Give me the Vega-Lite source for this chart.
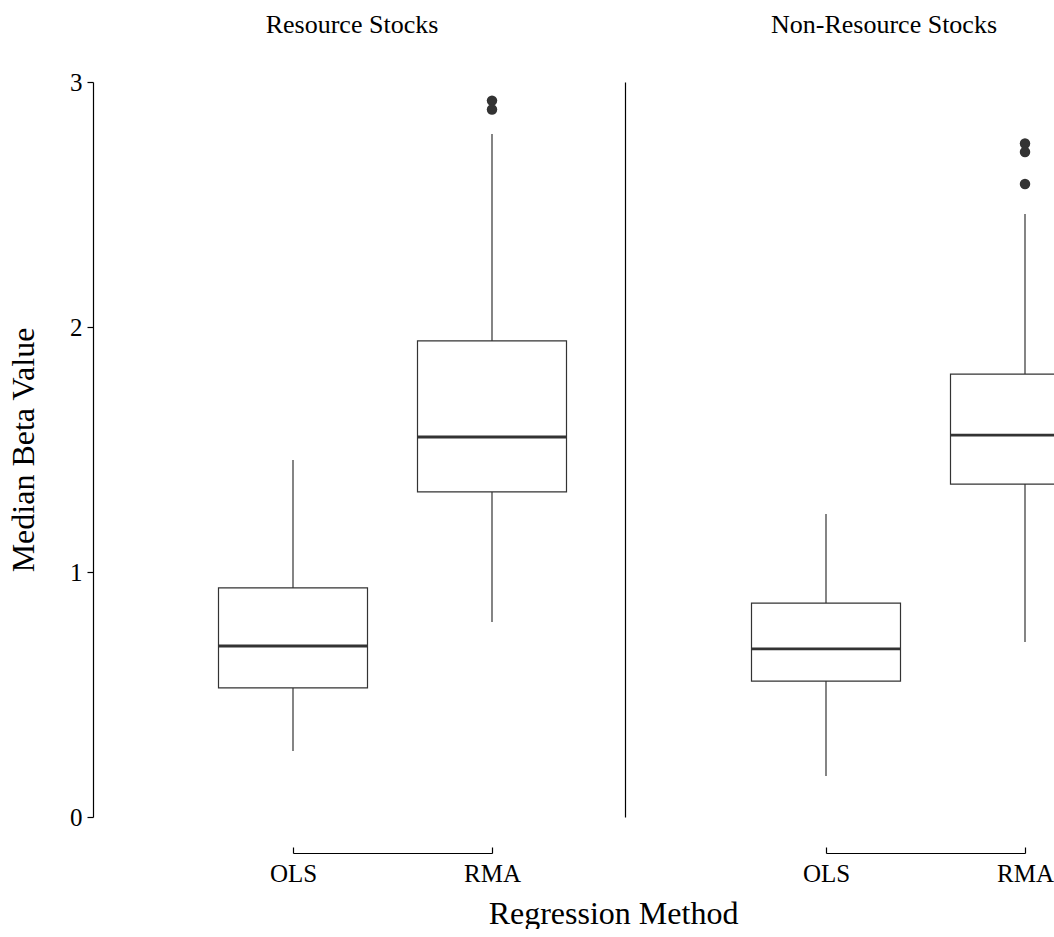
{
  "$schema": "https://vega.github.io/schema/vega-lite/v6.json",
  "background": "white",
  "padding": {"left": 7, "top": 12, "right": 0, "bottom": 0},
  "bounds": "flush",
  "spacing": 14,
  "config": {
    "font": "Liberation Serif",
    "view": {"stroke": null},
    "axis": {"grid": false, "domainColor": "black", "tickColor": "black", "labelColor": "black", "titleColor": "black", "labelFont": "Liberation Serif", "titleFont": "Liberation Serif", "titleFontWeight": "normal", "domainWidth": 1.2, "tickWidth": 1.2},
    "title": {"font": "Liberation Serif", "fontWeight": "normal", "fontSize": 26, "color": "black"}
  },
  "datasets": {
    "boxes": [
      {"panel": "Resource Stocks", "method": "OLS", "lower": 0.269, "q1": 0.527, "median": 0.698, "q3": 0.935, "upper": 1.457},
      {"panel": "Resource Stocks", "method": "RMA", "lower": 0.796, "q1": 1.327, "median": 1.551, "q3": 1.943, "upper": 2.788},
      {"panel": "Non-Resource Stocks", "method": "OLS", "lower": 0.167, "q1": 0.555, "median": 0.686, "q3": 0.873, "upper": 1.237},
      {"panel": "Non-Resource Stocks", "method": "RMA", "lower": 0.714, "q1": 1.359, "median": 1.559, "q3": 1.808, "upper": 2.461}
    ],
    "outliers": [
      {"panel": "Resource Stocks", "method": "RMA", "value": 2.924},
      {"panel": "Resource Stocks", "method": "RMA", "value": 2.888},
      {"panel": "Non-Resource Stocks", "method": "RMA", "value": 2.749},
      {"panel": "Non-Resource Stocks", "method": "RMA", "value": 2.714},
      {"panel": "Non-Resource Stocks", "method": "RMA", "value": 2.584}
    ]
  },
  "hconcat": [
    {
      "title": {"text": "Resource Stocks", "anchor": "middle", "baseline": "alphabetic", "frame": "group", "offset": 11},
      "width": 518,
      "height": 735,
      "layer": [
        {
          "data": {"name": "boxes"},
          "transform": [{"filter": "datum.panel === 'Resource Stocks'"}],
          "mark": {"type": "rule", "color": "#333333", "strokeWidth": 1.2},
          "encoding": {
            "x": {"field": "method", "type": "nominal", "scale": {"type": "point", "range": [200, 399], "padding": 0},
              "axis": {"title": "Regression Method", "titleX": 520, "titleFontSize": 32, "titlePadding": 12, "labelAngle": 0, "labelFontSize": 25, "offset": 36, "tickSize": -6, "labelPadding": 14}},
            "y": {"field": "lower", "type": "quantitative", "scale": {"domain": [0, 3], "nice": false},
              "axis": {"title": "Median Beta Value", "values": [0, 1, 2, 3], "format": "d", "tickSize": 6, "labelPadding": 5, "labelFontSize": 25, "titleFontSize": 32, "titlePadding": 29}},
            "y2": {"field": "upper"}
          }
        },
        {
          "data": {"name": "boxes"},
          "transform": [{"filter": "datum.panel === 'Resource Stocks'"}],
          "mark": {"type": "bar", "width": 149, "fill": "white", "stroke": "#333333", "strokeWidth": 1.2},
          "encoding": {
            "x": {"field": "method", "type": "nominal"},
            "y": {"field": "q1", "type": "quantitative"},
            "y2": {"field": "q3"}
          }
        },
        {
          "data": {"name": "boxes"},
          "transform": [{"filter": "datum.panel === 'Resource Stocks'"}],
          "mark": {"type": "tick", "size": 149, "thickness": 2.8, "color": "#333333", "opacity": 1},
          "encoding": {
            "x": {"field": "method", "type": "nominal"},
            "y": {"field": "median", "type": "quantitative"}
          }
        },
        {
          "data": {"name": "outliers"},
          "transform": [{"filter": "datum.panel === 'Resource Stocks'"}],
          "mark": {"type": "circle", "size": 110, "color": "#333333", "opacity": 1},
          "encoding": {
            "x": {"field": "method", "type": "nominal"},
            "y": {"field": "value", "type": "quantitative"}
          }
        }
      ]
    },
    {
      "title": {"text": "Non-Resource Stocks", "anchor": "middle", "baseline": "alphabetic", "frame": "group", "offset": 23, "dx": 44.5},
      "width": 429,
      "height": 735,
      "layer": [
        {
          "data": {"name": "boxes"},
          "transform": [{"filter": "datum.panel === 'Non-Resource Stocks'"}],
          "mark": {"type": "rule", "color": "#333333", "strokeWidth": 1.2, "clip": true},
          "encoding": {
            "x": {"field": "method", "type": "nominal", "scale": {"type": "point", "range": [201, 400], "padding": 0},
              "axis": {"title": null, "labelAngle": 0, "labelFontSize": 25, "offset": 36, "tickSize": -6, "labelPadding": 14}},
            "y": {"field": "lower", "type": "quantitative", "scale": {"domain": [0, 3], "nice": false},
              "axis": {"title": null, "labels": false, "ticks": false}},
            "y2": {"field": "upper"}
          }
        },
        {
          "data": {"name": "boxes"},
          "transform": [{"filter": "datum.panel === 'Non-Resource Stocks'"}],
          "mark": {"type": "bar", "width": 149, "fill": "white", "stroke": "#333333", "strokeWidth": 1.2, "clip": true},
          "encoding": {
            "x": {"field": "method", "type": "nominal"},
            "y": {"field": "q1", "type": "quantitative"},
            "y2": {"field": "q3"}
          }
        },
        {
          "data": {"name": "boxes"},
          "transform": [{"filter": "datum.panel === 'Non-Resource Stocks'"}],
          "mark": {"type": "tick", "size": 149, "thickness": 2.8, "color": "#333333", "opacity": 1, "clip": true},
          "encoding": {
            "x": {"field": "method", "type": "nominal"},
            "y": {"field": "median", "type": "quantitative"}
          }
        },
        {
          "data": {"name": "outliers"},
          "transform": [{"filter": "datum.panel === 'Non-Resource Stocks'"}],
          "mark": {"type": "circle", "size": 110, "color": "#333333", "opacity": 1, "clip": true},
          "encoding": {
            "x": {"field": "method", "type": "nominal"},
            "y": {"field": "value", "type": "quantitative"}
          }
        }
      ]
    }
  ],
  "resolve": {"scale": {"x": "independent", "y": "independent"}}
}
